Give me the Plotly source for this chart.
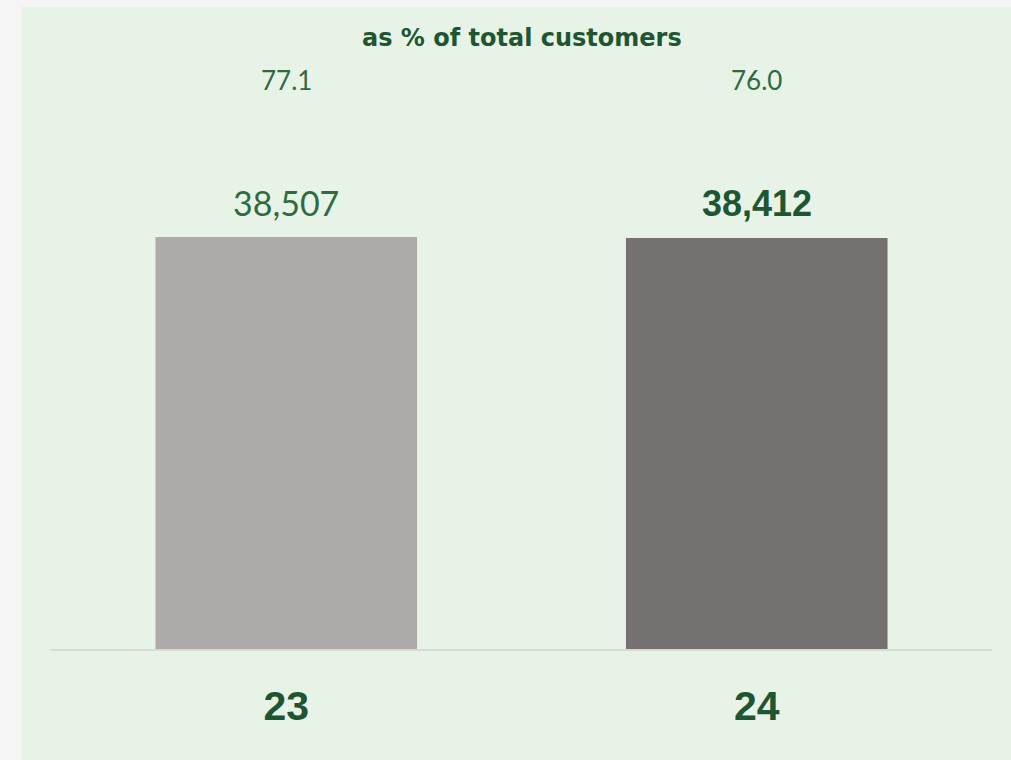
import plotly.graph_objects as go

# Customer counts by year, with share of total customers
years = ["23", "24"]
customers = [38507, 38412]
share_pct = [77.1, 76.0]
bar_colors = ["#aeaaa9", "#767171"]

W, H = 1011, 760
M_L, M_R, M_T, M_B = 51, 19, 100, 111
plot_h = H - M_T - M_B

DARK_GREEN = "#1e5631"
MID_GREEN = "#2e6b3f"

fig = go.Figure()
fig.add_trace(go.Bar(
    x=years,
    y=customers,
    marker=dict(color=bar_colors, line=dict(width=0)),
    width=0.556,
    hoverinfo="skip",
))

# value labels above the bars: previous year regular, current year bold
label_fonts = [
    dict(family="Lato, Open Sans, sans-serif", size=34, color=MID_GREEN, weight=400),
    dict(family="Liberation Sans, Arial, sans-serif", size=36, color=DARK_GREEN, weight="bold"),
]
for i, (val, fnt) in enumerate(zip(customers, label_fonts)):
    fig.add_annotation(
        x=i, y=val, xref="x", yref="y",
        text=f"{val:,}", showarrow=False,
        yanchor="bottom", yshift=12, font=fnt,
    )

# share of total customers row
for i, pct in enumerate(share_pct):
    fig.add_annotation(
        x=i, y=1 + 20 / plot_h, xref="x", yref="paper",
        text=f"{pct:.1f}", showarrow=False, yanchor="middle",
        font=dict(family="Lato, Open Sans, sans-serif", size=26, color=MID_GREEN, weight=400),
    )

fig.add_annotation(
    x=0.5, y=1 + 62 / plot_h, xref="paper", yref="paper",
    text="<b>as % of total customers</b>", showarrow=False, yanchor="middle",
    font=dict(family="DejaVu Sans, sans-serif", size=24, color=DARK_GREEN),
)

# light green panel behind the chart
fig.add_shape(
    type="rect", xref="paper", yref="paper", layer="below",
    x0=-(M_L - 21) / (W - M_L - M_R), x1=1 + M_R / (W - M_L - M_R),
    y0=-M_B / plot_h, y1=1 + (M_T - 7) / plot_h,
    fillcolor="#e8f3e7", line=dict(width=0),
)

fig.update_layout(
    width=W, height=H,
    margin=dict(l=M_L, r=M_R, t=M_T, b=M_B, pad=0),
    paper_bgcolor="#f5f5f5",
    plot_bgcolor="rgba(0,0,0,0)",
    showlegend=False,
    bargap=0.444,
    xaxis=dict(
        type="category",
        showgrid=False, zeroline=False,
        showline=True, linecolor="#d9d9d9", linewidth=2,
        ticks="", ticklabelstandoff=20,
        tickfont=dict(family="Liberation Sans, Arial, sans-serif", size=41,
                      color=DARK_GREEN, weight="bold"),
        range=[-0.5, 1.5],
    ),
    yaxis=dict(
        visible=False,
        range=[0, 51300],
    ),
)

fig.write_html("out.html")
